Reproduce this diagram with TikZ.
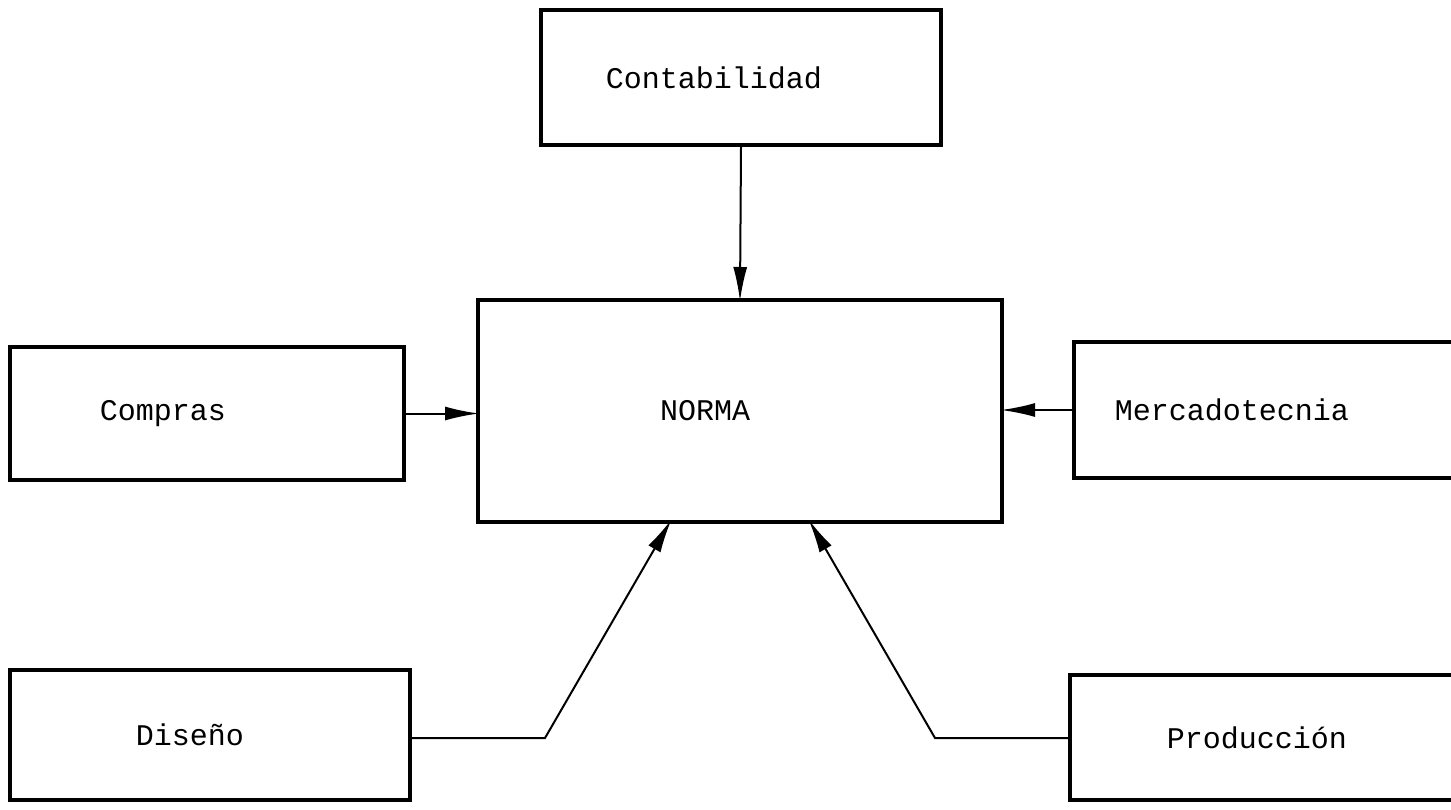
\documentclass[tikz,border=0pt]{standalone}
\usepackage{fontspec}
\newfontfamily\twfont{Liberation Mono}
\usetikzlibrary{arrows.meta}
\begin{document}
\begin{tikzpicture}[x=1pt,y=-1pt,
  box/.style={draw, line width=4pt, inner sep=0pt, font=\twfont\fontsize{30}{36}\selectfont},
  conn/.style={line width=2pt, shorten >=-3pt, -{Latex[length=34pt,width=14pt]}}]
\useasboundingbox[fill=white] (0,0) rectangle (1451,809);
\node[box, minimum width=400pt, minimum height=135pt] (cont) at (741,77.5) {Contabilidad\hspace*{54pt}};
\node[box, minimum width=524pt, minimum height=222pt] (norma) at (740,411) {NORMA\hspace*{70pt}};
\node[box, minimum width=394pt, minimum height=133pt] (comp) at (207,413.5) {Compras\hspace*{88pt}};
\node[box, minimum width=420pt, minimum height=136pt, anchor=west] (merc) at (1072,410) {Mercadotecnia\hspace*{104pt}};
\node[box, minimum width=400pt, minimum height=130pt] (dis) at (210,735) {Diseño\hspace*{40pt}};
\node[box, minimum width=420pt, minimum height=125pt, anchor=west] (prod) at (1068,737.5) {Producción\hspace*{46pt}};
\coordinate (dbend) at (545,738);
\coordinate (pbend) at (935,738);
\draw[conn] (cont.south) -- (norma.north);
\draw[conn] (comp.east) -- (norma.west |- comp.east);
\draw[conn] (merc.west) -- (norma.east |- merc.west);
\draw[conn] (dis.east |- dbend) -- (dbend) -- (670,522);
\draw[conn] (prod.west |- pbend) -- (pbend) -- (810,522);
\end{tikzpicture}
\end{document}
